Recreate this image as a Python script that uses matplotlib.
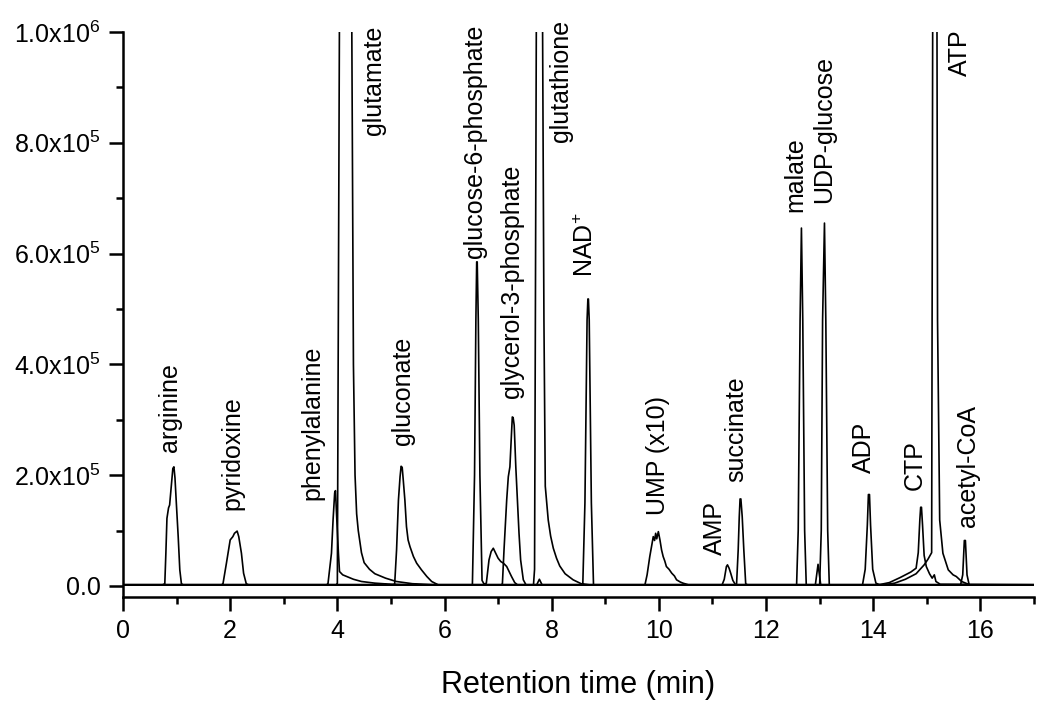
import matplotlib
matplotlib.use("Agg")
import matplotlib.pyplot as plt
from matplotlib.ticker import MultipleLocator

plt.rcParams['font.family'] = ['Liberation Sans', 'DejaVu Sans']
plt.rcParams['mathtext.fontset'] = 'custom'
plt.rcParams['mathtext.rm'] = 'Liberation Sans'
plt.rcParams['mathtext.it'] = 'Liberation Sans:italic'
plt.rcParams['mathtext.bf'] = 'Liberation Sans:bold'

# ---- data: retention time (min) and intensity (thousands of counts) ----
arginine_t = [0, 0.74, 0.78, 0.80, 0.82, 0.85, 0.87, 0.90, 0.93, 0.95, 0.97, 0.995, 1.03, 1.06, 1.09, 1.12, 17]
arginine_i = [2, 2, 4, 59, 122, 141, 146, 179, 212, 215, 195, 150, 89, 29, 4, 2, 2]

pyridoxine_t = [0, 1.84, 1.866, 1.93, 1.98, 2.00, 2.05, 2.08, 2.13, 2.16, 2.21, 2.25, 2.30, 2.34, 17]
pyridoxine_i = [2, 2, 4, 41, 71, 83, 89, 95, 99, 89, 59, 23, 4, 2, 2]

phenylalanine_t = [0, 3.80, 3.825, 3.89, 3.92, 3.95, 3.965, 3.99, 4.02, 4.04, 4.10, 4.20, 4.30, 4.45, 4.70, 5.00, 5.30, 17]
phenylalanine_i = [2, 2, 4, 59, 119, 168, 172, 119, 59, 26, 20, 16, 12, 8, 5, 3, 2, 2]

glutamate_t = [0, 3.98, 4.00, 4.04, 4.15, 4.27, 4.30, 4.33, 4.36, 4.39, 4.45, 4.50, 4.60, 4.70, 4.90, 5.10, 5.40, 5.80, 17]
glutamate_i = [2, 2, 5, 1050, 3000, 1000, 400, 200, 130, 100, 60, 42, 30, 22, 14, 8, 4, 2, 2]

gluconate_t = [0, 5.05, 5.07, 5.105, 5.14, 5.17, 5.19, 5.21, 5.23, 5.26, 5.29, 5.32, 5.355, 5.42, 5.48, 5.57, 5.67, 5.76, 5.88, 17]
gluconate_i = [2, 2, 4, 65, 155, 197, 216, 214, 191, 155, 107, 83, 71, 53, 41, 29, 17, 8, 2, 2]

g6p_t = [0, 6.52, 6.56, 6.585, 6.60, 6.61, 6.63, 6.66, 6.70, 6.74, 6.78, 6.83, 6.87, 6.91, 6.95, 7.00, 7.05, 7.10, 7.16, 7.21, 7.25, 7.31, 7.36, 17]
g6p_i = [2, 2, 200, 480, 585, 585, 480, 200, 10, 3, 5, 47, 62, 68, 60, 50, 44, 41, 35, 25, 17, 6, 2, 2]

g3p_t = [0, 7.06, 7.08, 7.11, 7.16, 7.19, 7.22, 7.25, 7.265, 7.28, 7.30, 7.33, 7.36, 7.39, 7.42, 7.47, 7.52, 7.72, 7.77, 7.82, 17]
g3p_i = [2, 2, 4, 65, 155, 197, 215, 276, 305, 304, 290, 215, 155, 95, 47, 11, 2, 2, 12, 2, 2]

glutathione_t = [0, 7.66, 7.68, 7.78, 7.83, 7.855, 7.88, 7.935, 7.98, 8.03, 8.09, 8.15, 8.25, 8.40, 8.55, 8.70, 17]
glutathione_i = [2, 2, 30, 3000, 1000, 480, 180, 119, 90, 68, 50, 36, 22, 11, 4, 2, 2]

nad_t = [0, 8.58, 8.62, 8.66, 8.675, 8.685, 8.70, 8.74, 8.78, 17]
nad_i = [2, 2, 150, 480, 518, 518, 480, 150, 2, 2]

ump_t = [0, 9.74, 9.78, 9.83, 9.87, 9.895, 9.92, 9.94, 9.96, 9.99, 10.02, 10.05, 10.08, 10.11, 10.14, 10.19, 10.24, 10.29, 10.33, 10.40, 10.45, 10.55, 17]
ump_i = [2, 2, 20, 53, 75, 89, 82, 95, 85, 98, 83, 65, 53, 45, 35, 30, 23, 18, 11, 7, 5, 2, 2]

amp_t = [0, 11.18, 11.22, 11.26, 11.28, 11.31, 11.34, 11.38, 11.43, 17]
amp_i = [2, 2, 12, 35, 38, 32, 23, 10, 2, 2]

succinate_t = [0, 11.43, 11.45, 11.48, 11.50, 11.515, 11.53, 11.555, 11.585, 11.62, 11.65, 17]
succinate_i = [2, 2, 4, 65, 125, 157, 157, 125, 65, 4, 2, 2]

malate_t = [0, 12.57, 12.60, 12.635, 12.66, 12.685, 12.72, 12.75, 12.92, 12.97, 13.02, 17]
malate_i = [2, 2, 100, 480, 646, 480, 100, 2, 2, 39, 2, 2]

udpg_t = [0, 13.00, 13.03, 13.055, 13.09, 13.115, 13.15, 13.18, 17]
udpg_i = [2, 2, 100, 480, 655, 480, 100, 2, 2]

adp_t = [0, 13.80, 13.85, 13.89, 13.91, 13.93, 13.95, 13.99, 14.05, 14.12, 17]
adp_i = [2, 2, 30, 110, 165, 165, 110, 30, 5, 2, 2]

ctp_t = [0, 14.10, 14.30, 14.50, 14.70, 14.80, 14.84, 14.87, 14.885, 14.90, 14.92, 14.95, 14.99, 15.05, 15.10, 15.14, 15.17, 15.25, 17]
ctp_i = [2, 2, 6, 15, 25, 32, 60, 120, 142, 142, 110, 55, 35, 22, 14, 20, 8, 3, 2]

atp_t = [0, 14.20, 14.40, 14.60, 14.80, 14.95, 15.02, 15.09, 15.15, 15.20, 15.24, 15.30, 15.40, 15.49, 15.55, 15.65, 15.80, 17]
atp_i = [2, 2, 5, 12, 22, 38, 48, 60, 3000, 480, 119, 59, 29, 20, 17, 8, 2, 2]

acoa_t = [0, 15.63, 15.67, 15.70, 15.72, 15.75, 15.79, 17]
acoa_i = [2, 2, 20, 82, 82, 20, 2, 2]

traces = [
    (arginine_t, arginine_i), (pyridoxine_t, pyridoxine_i), (phenylalanine_t, phenylalanine_i),
    (glutamate_t, glutamate_i), (gluconate_t, gluconate_i), (g6p_t, g6p_i), (g3p_t, g3p_i),
    (glutathione_t, glutathione_i), (nad_t, nad_i), (ump_t, ump_i), (amp_t, amp_i),
    (succinate_t, succinate_i), (malate_t, malate_i), (udpg_t, udpg_i), (adp_t, adp_i),
    (ctp_t, ctp_i), (atp_t, atp_i), (acoa_t, acoa_i),
]

label_names = ['arginine', 'pyridoxine', 'phenylalanine', 'glutamate', 'gluconate',
               'glucose-6-phosphate', 'glycerol-3-phosphate', 'glutathione',
               r'NAD$^{\mathregular{+}}$', 'UMP (x10)', 'AMP', 'succinate', 'malate',
               'UDP-glucose', 'ADP', 'CTP', 'ATP', 'acetyl-CoA']
label_t = [0.886, 2.04, 3.535, 4.68, 5.23, 6.57, 7.25, 8.17, 8.64, 9.98, 11.05, 11.45,
           12.54, 13.075, 13.83, 14.78, 15.61, 15.76]
label_i = [242, 137, 155, 814, 254, 592, 339, 801, 558, 128, 56, 188, 675, 691, 204, 173, 921, 107]

x_ticks = [0, 2, 4, 6, 8, 10, 12, 14, 16]
y_ticks = [0, 200000, 400000, 600000, 800000, 1000000]
y_tick_labels = ['0.0', r'2.0x10$^{\mathregular{5}}$', r'4.0x10$^{\mathregular{5}}$',
                 r'6.0x10$^{\mathregular{5}}$', r'8.0x10$^{\mathregular{5}}$',
                 r'1.0x10$^{\mathregular{6}}$']

# ---- figure ----
fig = plt.figure(figsize=(10.5, 7.12), dpi=100)
ax = fig.add_axes([123 / 1050, 115 / 712, 911 / 1050, 565 / 712])

for t, i in traces:
    ax.plot(t, [v * 1000 for v in i], color='black', lw=1.2, solid_joinstyle='round')

for name, t, i in zip(label_names, label_t, label_i):
    ax.text(t, i * 1000, name, rotation=90, ha='center', va='bottom', fontsize=18)

ax.set_xlim(0, 17)
ax.set_ylim(-20000, 1000000)
ax.set_xticks(x_ticks)
ax.set_xticklabels([str(v) for v in x_ticks])
ax.set_yticks(y_ticks)
ax.set_yticklabels(y_tick_labels)
ax.xaxis.set_minor_locator(MultipleLocator(1))
ax.yaxis.set_minor_locator(MultipleLocator(100000))

for s in ['top', 'right']:
    ax.spines[s].set_visible(False)
for s in ['left', 'bottom']:
    ax.spines[s].set_linewidth(1.8)

ax.tick_params(which='major', direction='out', length=10, width=1.8, labelsize=18, pad=6)
ax.tick_params(which='minor', direction='out', length=5, width=1.8)
ax.set_xlabel('Retention time (min)', fontsize=22, labelpad=19)

fig.savefig('out.png', dpi=100)
